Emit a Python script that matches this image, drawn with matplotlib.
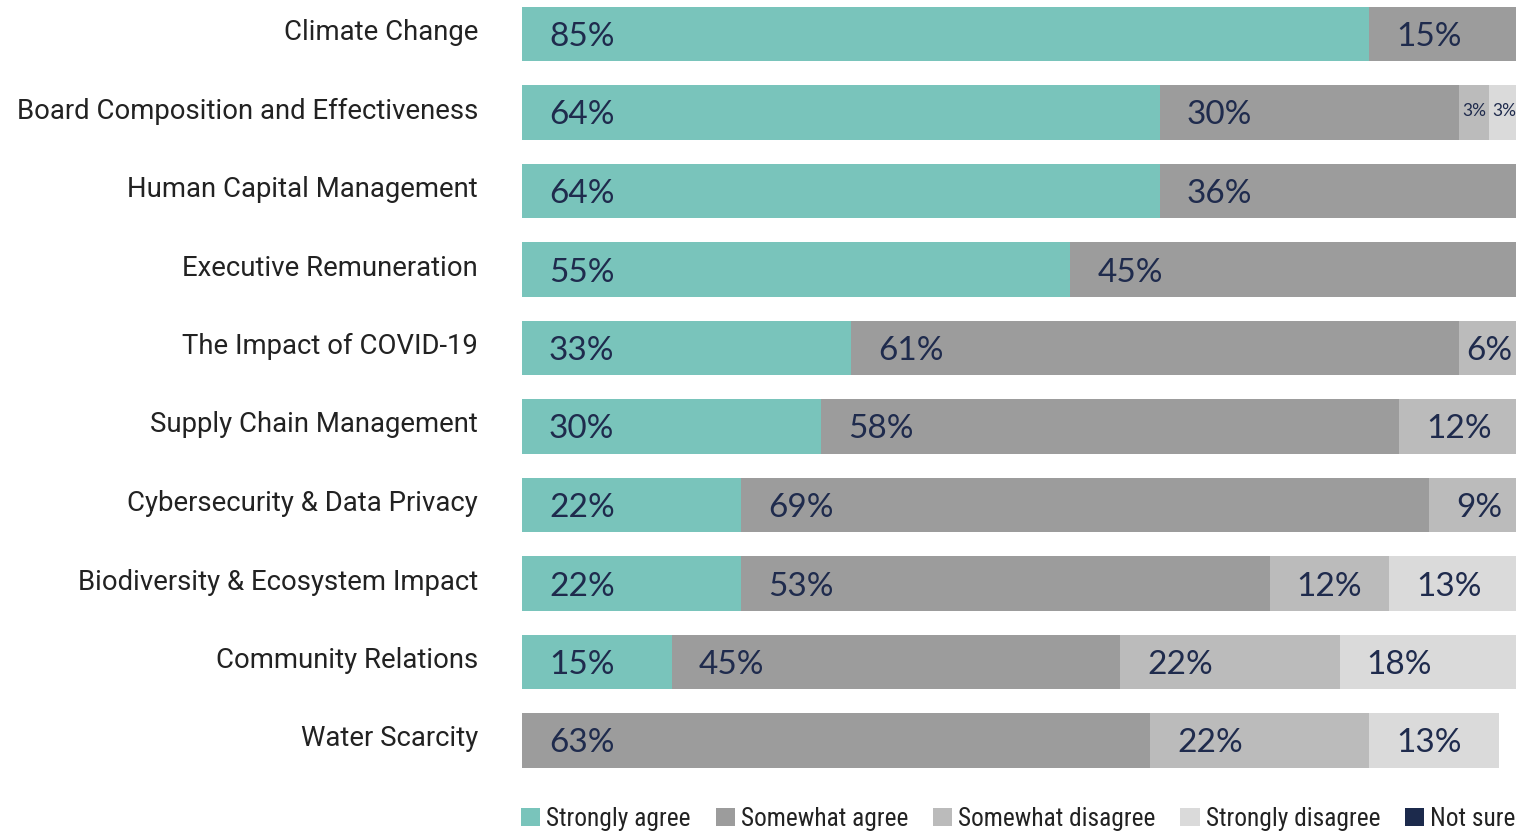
import matplotlib
matplotlib.use("Agg")
import matplotlib.pyplot as plt
import matplotlib.transforms as mtransforms
import numpy as np

categories = ["Climate Change", "Board Composition and Effectiveness", "Human Capital Management",
              "Executive Remuneration", "The Impact of COVID-19", "Supply Chain Management",
              "Cybersecurity & Data Privacy", "Biodiversity & Ecosystem Impact",
              "Community Relations", "Water Scarcity"]
series_names = ["Strongly agree", "Somewhat agree", "Somewhat disagree", "Strongly disagree", "Not sure"]
strongly_agree    = [85, 64, 64, 55, 33, 30, 22, 22, 15, 0]
somewhat_agree    = [15, 30, 36, 45, 61, 58, 69, 53, 45, 63]
somewhat_disagree = [0, 3, 0, 0, 6, 12, 9, 12, 22, 22]
strongly_disagree = [0, 3, 0, 0, 0, 0, 0, 13, 18, 13]
not_sure          = [0, 0, 0, 0, 0, 0, 0, 0, 0, 0]
colors = ["#79c4bb", "#9c9c9c", "#bbbbbb", "#dadada", "#1c2a4c"]

W, H = 1516, 832
fig = plt.figure(figsize=(W / 100, H / 100), dpi=100)
ax = fig.add_axes([522 / W, 1 - 779.75 / H, 997 / W, 785 / H])

down = mtransforms.ScaledTranslation(0, -3 / 100, fig.dpi_scale_trans)
data = np.array([strongly_agree, somewhat_agree, somewhat_disagree, strongly_disagree, not_sure], dtype=float)
y = np.arange(len(categories))
left = np.zeros(len(categories))
label_color = "#1f2b4d"
for k, name in enumerate(series_names):
    ax.barh(y, data[k], left=left, height=0.69, color=colors[k], label=name, linewidth=0)
    for i in range(len(categories)):
        v = data[k, i]
        if v <= 0:
            continue
        txt = f"{v:.0f}%"
        if v <= 3:
            ax.text(left[i] + v / 2, y[i], txt, ha="center", va="center", fontsize=12.5,
                    color=label_color, family="Lato",
                    transform=ax.transData + mtransforms.ScaledTranslation(0, 1 / 100, fig.dpi_scale_trans))
        elif v <= 6:
            ax.text(left[i] + v / 2, y[i], txt, ha="center", va="center", fontsize=24,
                    color=label_color, family="Lato", transform=ax.transData + down)
        else:
            ax.text(left[i] + 2.7, y[i], txt, ha="left", va="center", fontsize=24,
                    color=label_color, family="Lato", transform=ax.transData + down)
    left += data[k]

ax.set_xlim(0, 100)
ax.set_ylim(len(categories) - 0.5, -0.5)
ax.set_yticks([])
ax.set_xticks([])
cat_trans = mtransforms.blended_transform_factory(ax.transAxes, ax.transData) + \
    mtransforms.ScaledTranslation(-44 / 100, 1.5 / 100, fig.dpi_scale_trans)
for i, c in enumerate(categories):
    ax.text(0, y[i], c, ha="right", va="center", fontsize=19.8, family="Roboto",
            color="#222222", transform=cat_trans)
for s in ax.spines.values():
    s.set_visible(False)

leg = fig.legend(loc="center left", bbox_to_anchor=(521 / W, 1 - 819 / H), ncol=5, frameon=False,
                 handlelength=0.75, handleheight=0.75, handletextpad=0.24, columnspacing=0.98,
                 prop={"family": ["Roboto Condensed", "Liberation Sans Narrow", "Roboto"], "size": 18.3},
                 borderaxespad=0, borderpad=0)
for t in leg.get_texts():
    t.set_color("#222222")

fig.savefig("out.png", dpi=100)
